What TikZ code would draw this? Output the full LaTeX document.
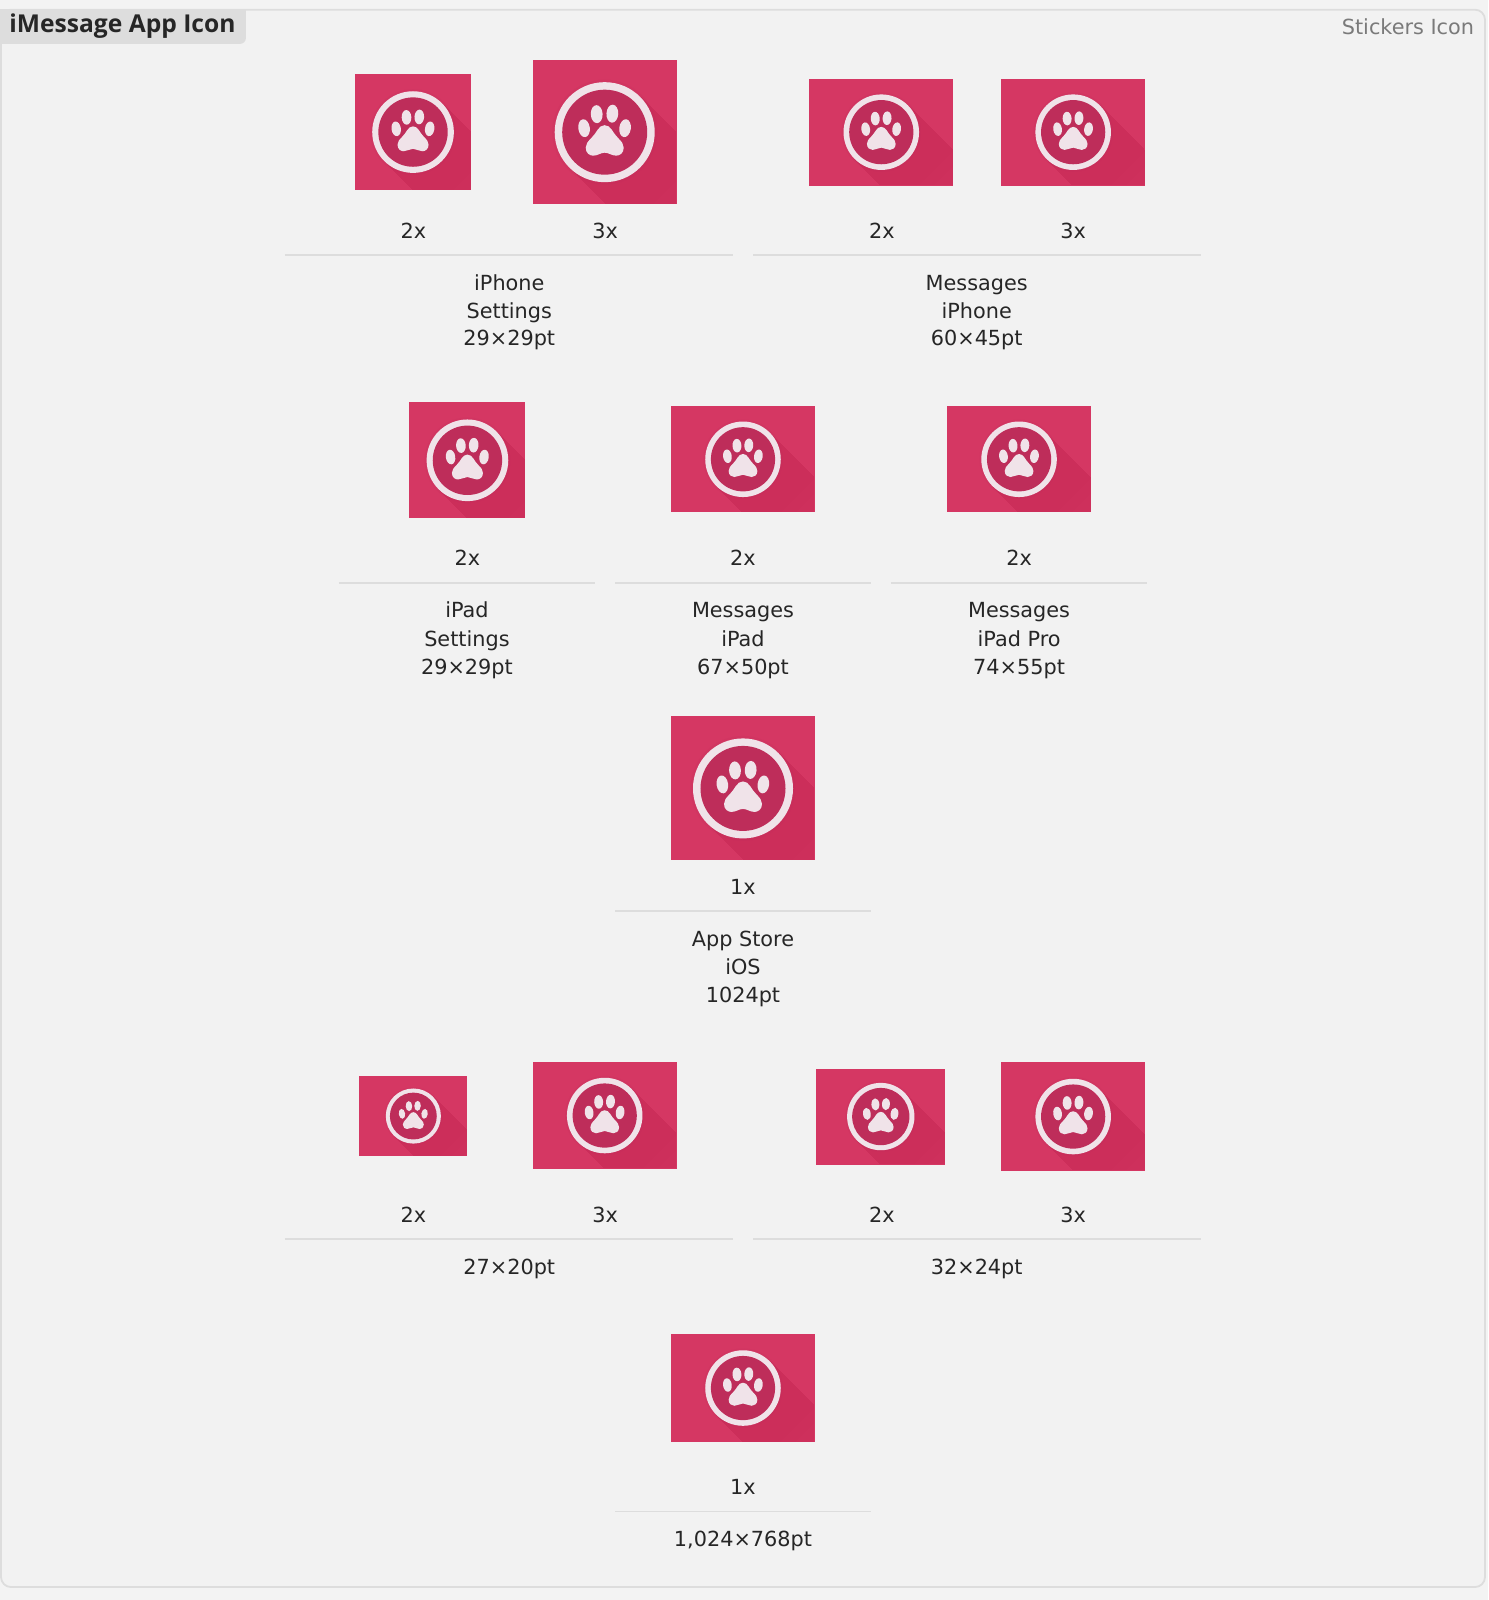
\documentclass[tikz,border=0pt]{standalone}
\usepackage{fontspec}
\setmainfont{DejaVu Sans}
\newfontfamily\headfont{Open Sans}
\definecolor{pagebg}{HTML}{F3F3F3}
\definecolor{panelbg}{HTML}{F2F2F2}
\definecolor{edge}{HTML}{DDDDDD}
\definecolor{tilecol}{HTML}{D53763}
\definecolor{innercol}{HTML}{BE2D5A}
\definecolor{ringcol}{HTML}{F0E3E9}
\definecolor{inkcol}{HTML}{262626}
\definecolor{greycol}{HTML}{7A7A7A}
\tikzset{
  lab/.style={anchor=base,inner sep=0pt,text=inkcol,font=\fontsize{10.4}{12}\selectfont},
  sep/.style={draw=edge,line width=0.9pt},
}
\newcommand{\pawtile}[5]{% cx cy w h r
  \pgfmathsetmacro{\ru}{#5*0.5103}
  \fill[tilecol] ({#1-#3/2},{#2-#4/2}) rectangle ({#1+#3/2},{#2+#4/2});
  \begin{scope}
    \clip ({#1-#3/2+1},{#2-#4/2+1}) rectangle ({#1+#3/2-1},{#2+#4/2-1});
    \begin{scope}[shift={(#1,#2)},x=\ru pt,y=-\ru pt]
      \foreach \L in {1.2,1.4,...,2.8}{
        \fill[innercol,opacity=.035] (.707,-.707) -- (.707+\L,-.707+\L) -- (-.707+\L,.707+\L) -- (-.707,.707) -- cycle;
      }
    \end{scope}
  \end{scope}
  \begin{scope}[shift={(#1,#2)},x=\ru pt,y=-\ru pt]
      \fill[innercol,opacity=.15] (0,0) circle[radius=1.05];
      \fill[ringcol] (0,0) circle[radius=1];
      \fill[innercol] (0,0) circle[radius=.85];
      \fill[ringcol] (-.413,-.08) circle[x radius=.115,y radius=.18,rotate=8];
      \fill[ringcol] (.407,-.08) circle[x radius=.115,y radius=.18,rotate=-8];
      \fill[ringcol] (-.16,-.36) circle[x radius=.118,y radius=.18,rotate=3];
      \fill[ringcol] (.153,-.37) circle[x radius=.118,y radius=.18,rotate=-3];
      \fill[ringcol] (0,-.14) .. controls (-.13,-.14) and (-.16,.02) .. (-.27,.12)
        .. controls (-.34,.19) and (-.38,.24) .. (-.38,.31)
        .. controls (-.38,.42) and (-.30,.47) .. (-.23,.47)
        .. controls (-.14,.47) and (-.08,.41) .. (0,.41)
        .. controls (.08,.41) and (.14,.47) .. (.23,.47)
        .. controls (.30,.47) and (.38,.42) .. (.38,.31)
        .. controls (.38,.24) and (.34,.19) .. (.27,.12)
        .. controls (.16,.02) and (.13,-.14) .. (0,-.14) -- cycle;
  \end{scope}
}
\begin{document}
\begin{tikzpicture}[x=0.5103pt,y=-0.5103pt]
\useasboundingbox (0,0) rectangle (1458,1567.7);
\fill[pagebg] (0,0) rectangle (1458,1567.7);
\draw[sep,fill=panelbg,rounded corners=5pt] (1,9.5) rectangle (1455,1555);
\fill[edge] (0,9) -- (241,9) -- (241,38) [rounded corners=3pt] -- (241,43) [sharp corners] -- (0,43) -- cycle;
\node[lab,font=\headfont\fontsize{12.3}{14}\selectfont\bfseries] (title) at (120,31.5) {iMessage App Icon};
\node[lab,text=greycol] (stickers) at (1379.5,33.5) {Stickers Icon};
% row 1
\pawtile{404.7}{129.4}{113.7}{113.7}{40}
\pawtile{592.5}{129.5}{141}{141}{49}
\pawtile{863.5}{129.5}{141}{105}{37}
\pawtile{1051.5}{129.5}{141}{105}{37}
\node[lab] (a1) at (405,233.5) {2x};
\node[lab] (a2) at (593,233.5) {3x};
\node[lab] (a3) at (864,233.5) {2x};
\node[lab] (a4) at (1051.5,233.5) {3x};
\draw[sep] (279,250) -- (718,250);
\draw[sep] (738,250) -- (1177,250);
\node[lab] (b1) at (499,284.5) {iPhone};
\node[lab] (b2) at (499,312) {Settings};
\node[lab] (b3) at (499,339) {29×29pt};
\node[lab] (b4) at (957,284.5) {Messages};
\node[lab] (b5) at (957,312) {iPhone};
\node[lab] (b6) at (957,339) {60×45pt};
% row 2
\pawtile{458}{451}{113.7}{113.7}{40}
\pawtile{728}{450}{141}{104}{37}
\pawtile{998.5}{450}{141}{104}{37}
\node[lab] (c1) at (458,554.5) {2x};
\node[lab] (c2) at (728,554.5) {2x};
\node[lab] (c3) at (998.5,554.5) {2x};
\draw[sep] (332,571) -- (583,571);
\draw[sep] (603,571) -- (853,571);
\draw[sep] (873,571) -- (1124,571);
\node[lab] (d1) at (457.5,605.5) {iPad};
\node[lab] (d2) at (457.5,633) {Settings};
\node[lab] (d3) at (457.5,660.5) {29×29pt};
\node[lab] (d4) at (728,605.5) {Messages};
\node[lab] (d5) at (728,633) {iPad};
\node[lab] (d6) at (728,660.5) {67×50pt};
\node[lab] (d7) at (998.5,605.5) {Messages};
\node[lab] (d8) at (998.5,633) {iPad Pro};
\node[lab] (d9) at (998.5,660.5) {74×55pt};
% row 3
\pawtile{728}{772.5}{141}{141}{49}
\node[lab] (e1) at (728,876.5) {1x};
\draw[sep] (603,892.5) -- (853,892.5);
\node[lab] (e2) at (728,927.5) {App Store};
\node[lab] (e3) at (728,955) {iOS};
\node[lab] (e4) at (728,982) {1024pt};
% row 4
\pawtile{405}{1093.5}{106}{79}{27}
\pawtile{592.5}{1093}{141}{104}{37}
\pawtile{863}{1094}{126}{94}{33}
\pawtile{1051.5}{1094}{141}{106}{37}
\node[lab] (f1) at (405,1197.5) {2x};
\node[lab] (f2) at (593,1197.5) {3x};
\node[lab] (f3) at (864,1197.5) {2x};
\node[lab] (f4) at (1051.5,1197.5) {3x};
\draw[sep] (279,1214) -- (718,1214);
\draw[sep] (738,1214) -- (1177,1214);
\node[lab] (f5) at (499,1248.5) {27×20pt};
\node[lab] (f6) at (957,1248.5) {32×24pt};
% row 5
\pawtile{728}{1360}{141}{106}{37}
\node[lab] (g1) at (728,1464.5) {1x};
\draw[sep] (603,1481) -- (853,1481);
\node[lab] (g2) at (728,1515.5) {1,024×768pt};
\end{tikzpicture}
\end{document}
